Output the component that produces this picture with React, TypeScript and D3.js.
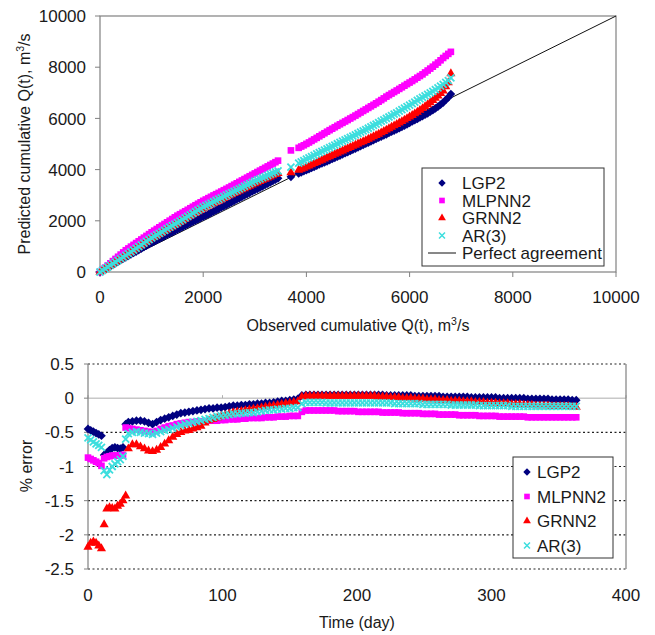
import React from "react";
import * as d3 from "d3";

// ---- series ----
const seriesNames = ["LGP2", "MLPNN2", "GRNN2", "AR(3)"];
const seriesColors = ["#000080", "#ff00ff", "#ff0000", "#3ddede"];

// ---- top chart: observed vs predicted cumulative Q(t) ----
const observed = [
  0, 50, 100, 150, 200, 250, 300, 350, 400, 450,
  500, 550, 600, 650, 700, 750, 800, 850, 900, 950,
  1000, 1050, 1100, 1150, 1200, 1250, 1300, 1350, 1400, 1450,
  1500, 1550, 1600, 1650, 1700, 1750, 1800, 1850, 1900, 1950,
  2000, 2050, 2100, 2150, 2200, 2250, 2300, 2350, 2400, 2450,
  2500, 2550, 2600, 2650, 2700, 2750, 2800, 2850, 2900, 2950,
  3000, 3050, 3100, 3150, 3200, 3250, 3300, 3350, 3400, 3450,
  3700, 3850, 3900, 3950, 4000, 4050, 4100, 4150, 4200, 4250,
  4300, 4350, 4400, 4450, 4500, 4550, 4600, 4650, 4700, 4750,
  4800, 4850, 4900, 4950, 5000, 5050, 5100, 5150, 5200, 5250,
  5300, 5350, 5400, 5450, 5500, 5550, 5600, 5650, 5700, 5750,
  5800, 5850, 5900, 5950, 6000, 6050, 6100, 6150, 6200, 6250,
  6300, 6350, 6400, 6450, 6500, 6550, 6600, 6650, 6700, 6750,
  6800,
];
const predLGP2 = [
  0, 57, 115, 172, 230, 287, 345, 402, 460, 517,
  575, 632, 690, 745, 800, 857, 915, 972, 1030, 1085,
  1140, 1192, 1245, 1297, 1350, 1402, 1455, 1507, 1560, 1610,
  1660, 1712, 1765, 1815, 1865, 1915, 1965, 2012, 2060, 2110,
  2160, 2210, 2260, 2312, 2365, 2417, 2470, 2520, 2570, 2622,
  2675, 2727, 2780, 2832, 2885, 2937, 2990, 3042, 3095, 3147,
  3200, 3247, 3295, 3347, 3400, 3450, 3500, 3555, 3610, 3660,
  3720, 3850, 3895, 3940, 3980, 4020, 4065, 4110, 4155, 4200,
  4240, 4280, 4325, 4370, 4415, 4460, 4505, 4550, 4595, 4640,
  4685, 4730, 4775, 4820, 4870, 4920, 4965, 5010, 5055, 5100,
  5150, 5200, 5245, 5290, 5335, 5380, 5430, 5480, 5525, 5570,
  5620, 5670, 5720, 5770, 5825, 5880, 5930, 5980, 6035, 6090,
  6145, 6200, 6260, 6320, 6390, 6460, 6540, 6620, 6720, 6820,
  6950,
];
const predMLPNN2 = [
  0, 85, 170, 255, 340, 425, 510, 595, 680, 765,
  850, 920, 990, 1060, 1130, 1200, 1270, 1340, 1410, 1480,
  1550, 1615, 1680, 1745, 1810, 1875, 1940, 2005, 2070, 2135,
  2200, 2257, 2315, 2372, 2430, 2490, 2550, 2607, 2665, 2722,
  2780, 2832, 2885, 2937, 2990, 3040, 3090, 3142, 3195, 3247,
  3300, 3355, 3410, 3465, 3520, 3575, 3630, 3685, 3740, 3795,
  3850, 3905, 3960, 4015, 4070, 4125, 4180, 4235, 4290, 4350,
  4750, 4850, 4900, 4950, 5005, 5060, 5120, 5180, 5240, 5300,
  5360, 5420, 5480, 5540, 5597, 5655, 5712, 5770, 5825, 5880,
  5937, 5995, 6052, 6110, 6170, 6230, 6290, 6350, 6410, 6470,
  6530, 6590, 6652, 6715, 6782, 6850, 6910, 6970, 7030, 7090,
  7152, 7215, 7277, 7340, 7400, 7460, 7525, 7590, 7655, 7720,
  7795, 7870, 7945, 8020, 8100, 8180, 8270, 8360, 8440, 8520,
  8600,
];
const predGRNN2 = [
  0, 65, 130, 192, 255, 320, 385, 447, 510, 575,
  640, 705, 770, 837, 905, 970, 1035, 1102, 1170, 1235,
  1300, 1357, 1415, 1472, 1530, 1590, 1650, 1707, 1765, 1822,
  1880, 1940, 2000, 2060, 2120, 2180, 2240, 2300, 2360, 2420,
  2480, 2530, 2580, 2630, 2680, 2730, 2780, 2830, 2880, 2930,
  2980, 3027, 3075, 3122, 3170, 3215, 3260, 3307, 3355, 3402,
  3450, 3495, 3540, 3585, 3630, 3675, 3720, 3765, 3810, 3850,
  3880, 3980, 4020, 4060, 4105, 4150, 4195, 4240, 4285, 4330,
  4375, 4420, 4465, 4510, 4555, 4600, 4645, 4690, 4735, 4780,
  4825, 4870, 4915, 4960, 5005, 5050, 5095, 5140, 5190, 5240,
  5290, 5340, 5390, 5440, 5495, 5550, 5605, 5660, 5715, 5770,
  5825, 5880, 5940, 6000, 6060, 6120, 6185, 6250, 6320, 6390,
  6465, 6540, 6620, 6700, 6790, 6880, 6980, 7080, 7240, 7400,
  7750,
];
const predAR3 = [
  0, 65, 130, 195, 260, 325, 390, 455, 520, 585,
  650, 717, 785, 852, 920, 990, 1060, 1127, 1195, 1262,
  1330, 1390, 1450, 1510, 1570, 1630, 1690, 1750, 1810, 1870,
  1930, 1990, 2050, 2110, 2170, 2232, 2295, 2357, 2420, 2480,
  2540, 2590, 2640, 2692, 2745, 2795, 2845, 2897, 2950, 3000,
  3050, 3100, 3150, 3200, 3250, 3300, 3350, 3400, 3450, 3500,
  3550, 3595, 3640, 3685, 3730, 3775, 3820, 3865, 3910, 3950,
  4100, 4250, 4300, 4350, 4405, 4460, 4510, 4560, 4610, 4660,
  4710, 4760, 4810, 4860, 4910, 4960, 5010, 5060, 5110, 5160,
  5210, 5260, 5310, 5360, 5410, 5460, 5510, 5560, 5615, 5670,
  5725, 5780, 5835, 5890, 5945, 6000, 6055, 6110, 6165, 6220,
  6280, 6340, 6400, 6460, 6520, 6580, 6640, 6700, 6760, 6820,
  6880, 6940, 7000, 7060, 7125, 7190, 7260, 7330, 7405, 7480,
  7580,
];
const topTicks = [0, 2000, 4000, 6000, 8000, 10000];

// ---- bottom chart: % error over time ----
const days = [
  0, 2, 4, 6, 8, 10, 12, 14, 16, 18, 20, 22, 24, 26, 28, 30,
  33, 36, 39, 42, 45, 48, 51, 54, 57, 60,
  63, 66, 69, 72, 75, 78, 81, 84, 87, 90,
  93, 96, 99, 102, 105, 108, 111, 114, 117, 120,
  123, 126, 129, 132, 135, 138, 141, 144, 147, 150,
  153, 156, 159,
  162, 165, 168, 171, 174, 177, 180, 183, 186, 189, 192, 195, 198, 201, 204, 207, 210,
  213, 216, 219, 222, 225, 228, 231, 234, 237, 240,
  243, 246, 249, 252, 255, 258, 261, 264, 267, 270,
  273, 276, 279, 282, 285, 288, 291, 294, 297, 300,
  303, 306, 309, 312, 315, 318, 321, 324, 327, 330,
  333, 336, 339, 342, 345, 348, 351, 354, 357, 360,
  363,
];
const errLGP2 = [
  -0.45, -0.47, -0.49, -0.51, -0.53, -0.55, -0.83, -0.8, -0.76, -0.73, -0.72, -0.73, -0.74, -0.72, -0.38, -0.35,
  -0.34, -0.33, -0.33, -0.34, -0.36, -0.38, -0.35, -0.32, -0.3, -0.28,
  -0.26, -0.24, -0.22, -0.21, -0.2, -0.19, -0.18, -0.17, -0.16, -0.15,
  -0.15, -0.14, -0.14, -0.13, -0.12, -0.11, -0.11, -0.1, -0.1, -0.09,
  -0.09, -0.08, -0.08, -0.07, -0.07, -0.06, -0.05, -0.04, -0.04, -0.03,
  -0.02, -0.01, 0.04,
  0.05, 0.05, 0.05, 0.05, 0.05, 0.05, 0.05, 0.05, 0.05, 0.05, 0.05, 0.05, 0.05, 0.05, 0.05, 0.05, 0.05,
  0.05, 0.05, 0.05, 0.04, 0.04, 0.04, 0.04, 0.04, 0.04, 0.04,
  0.03, 0.03, 0.03, 0.03, 0.03, 0.03, 0.03, 0.02, 0.02, 0.02,
  0.02, 0.02, 0.02, 0.02, 0.01, 0.01, 0.01, 0.01, 0.01, 0.01,
  0.01, 0, 0, 0, 0, 0, 0, 0, -0.01, -0.01,
  -0.01, -0.01, -0.01, -0.01, -0.02, -0.02, -0.02, -0.02, -0.02, -0.03,
  -0.03,
];
const errMLPNN2 = [
  -0.87, -0.89, -0.91, -0.93, -0.95, -0.99, -0.88, -0.86, -0.85, -0.84, -0.84, -0.84, -0.84, -0.83, -0.43, -0.44,
  -0.45, -0.46, -0.47, -0.48, -0.49, -0.5, -0.48, -0.45, -0.43, -0.41,
  -0.4, -0.38, -0.37, -0.36, -0.35, -0.35, -0.34, -0.34, -0.34, -0.33,
  -0.33, -0.33, -0.32, -0.32, -0.31, -0.31, -0.31, -0.3, -0.3, -0.29,
  -0.29, -0.29, -0.29, -0.28, -0.28, -0.28, -0.27, -0.27, -0.27, -0.26,
  -0.26, -0.26, -0.2,
  -0.18, -0.18, -0.18, -0.18, -0.18, -0.18, -0.18, -0.18, -0.19, -0.19, -0.19, -0.19, -0.19, -0.2, -0.2, -0.2, -0.2,
  -0.2, -0.2, -0.21, -0.21, -0.21, -0.21, -0.21, -0.22, -0.22, -0.22,
  -0.22, -0.22, -0.23, -0.23, -0.23, -0.23, -0.24, -0.24, -0.24, -0.24,
  -0.24, -0.25, -0.25, -0.25, -0.25, -0.25, -0.26, -0.26, -0.26, -0.26,
  -0.26, -0.27, -0.27, -0.27, -0.27, -0.27, -0.27, -0.27, -0.28, -0.28,
  -0.28, -0.28, -0.28, -0.28, -0.28, -0.28, -0.28, -0.28, -0.28, -0.28,
  -0.28,
];
const errGRNN2 = [
  -2.18, -2.12, -2.1, -2.12, -2.16, -2.2, -1.85, -1.62, -1.6, -1.61, -1.62, -1.58, -1.55, -1.5, -1.43, -0.74,
  -0.68, -0.68, -0.71, -0.74, -0.77, -0.78, -0.76, -0.72, -0.67, -0.62,
  -0.57, -0.53, -0.5, -0.48, -0.47, -0.45, -0.43, -0.41, -0.36, -0.33,
  -0.31, -0.29, -0.27, -0.25, -0.23, -0.21, -0.2, -0.19, -0.18, -0.17,
  -0.16, -0.15, -0.14, -0.13, -0.12, -0.11, -0.1, -0.09, -0.08, -0.07,
  -0.06, -0.05, 0.02,
  0.03, 0.03, 0.03, 0.03, 0.03, 0.03, 0.03, 0.03, 0.03, 0.03, 0.03, 0.03, 0.03, 0.03, 0.03, 0.03, 0.03,
  0.03, 0.02, 0.02, 0.02, 0.01, 0.01, 0.01, 0, 0, 0,
  -0.01, -0.01, -0.01, -0.02, -0.02, -0.02, -0.03, -0.03, -0.03, -0.04,
  -0.04, -0.04, -0.05, -0.05, -0.05, -0.06, -0.06, -0.06, -0.07, -0.07,
  -0.07, -0.08, -0.08, -0.08, -0.09, -0.09, -0.09, -0.1, -0.1, -0.1,
  -0.11, -0.11, -0.11, -0.11, -0.12, -0.12, -0.12, -0.12, -0.12, -0.13,
  -0.13,
];
const errAR3 = [
  -0.58, -0.61, -0.64, -0.67, -0.69, -0.72, -1.06, -1.12, -1.05, -1.0, -0.96, -0.93, -0.9, -0.85, -0.6, -0.52,
  -0.5, -0.49, -0.5, -0.51, -0.52, -0.53, -0.51, -0.49, -0.47, -0.46,
  -0.44, -0.42, -0.4, -0.38, -0.37, -0.35, -0.34, -0.33, -0.31, -0.3,
  -0.28, -0.27, -0.26, -0.25, -0.24, -0.23, -0.23, -0.22, -0.22, -0.21,
  -0.21, -0.2, -0.19, -0.18, -0.17, -0.17, -0.16, -0.16, -0.15, -0.15,
  -0.14, -0.14, -0.08,
  -0.06, -0.06, -0.06, -0.06, -0.06, -0.07, -0.07, -0.07, -0.07, -0.07, -0.07, -0.07, -0.07, -0.07, -0.07, -0.07, -0.07,
  -0.07, -0.07, -0.07, -0.07, -0.07, -0.08, -0.08, -0.08, -0.08, -0.08,
  -0.08, -0.08, -0.09, -0.09, -0.09, -0.09, -0.09, -0.09, -0.09, -0.1,
  -0.1, -0.1, -0.1, -0.1, -0.1, -0.1, -0.11, -0.11, -0.11, -0.11,
  -0.11, -0.11, -0.11, -0.11, -0.12, -0.12, -0.12, -0.12, -0.12, -0.12,
  -0.12, -0.12, -0.12, -0.12, -0.12, -0.12, -0.12, -0.12, -0.12, -0.12,
  -0.12,
];
const errTicks = [0.5, 0, -0.5, -1, -1.5, -2, -2.5];
const dayTicks = [0, 100, 200, 300, 400];

const FONT = "'Liberation Sans', Arial, sans-serif";
const TXT = "#1a1a1a";
const AXIS = "#808080";

// marker shapes (LGP2 diamond, MLPNN2 square, GRNN2 triangle, AR(3) x)
const diamondPath = d3.symbol(d3.symbolSquare, 38)() as string;
const squarePath = d3.symbol(d3.symbolSquare, 44)() as string;
const trianglePath = d3.symbol(d3.symbolTriangle, 36)() as string;
const xPath = "M-3.5,-3.5L3.5,3.5M-3.5,3.5L3.5,-3.5";

function Marker({ kind, x, y, scale = 1 }: { kind: number; x: number; y: number; scale?: number }) {
  const c = seriesColors[kind];
  const t = `translate(${x},${y}) scale(${scale})`;
  if (kind === 0) return <path d={diamondPath} transform={`${t} rotate(45)`} fill={c} />;
  if (kind === 1) return <path d={squarePath} transform={t} fill={c} />;
  if (kind === 2) return <path d={trianglePath} transform={t} fill={c} />;
  return <path d={xPath} transform={t} stroke={c} strokeWidth={1.8} fill="none" />;
}

function TopChart() {
  const x = d3.scaleLinear().domain([0, 10000]).range([100, 616]);
  const y = d3.scaleLinear().domain([0, 10000]).range([272, 16]);
  const preds = [predLGP2, predMLPNN2, predGRNN2, predAR3];
  const rows = [183, 200.5, 218, 235.5, 253];
  return (
    <g fontFamily={FONT} fill={TXT}>
      <rect x={100} y={16} width={516} height={256} fill="white" stroke={AXIS} strokeWidth={1.2} />
      {topTicks.map((t) => (
        <g key={"tx" + t}>
          <line x1={x(t)} x2={x(t)} y1={272} y2={277} stroke={AXIS} />
          <text x={x(t)} y={303} textAnchor="middle" fontSize={17}>{t}</text>
          <line x1={95} x2={100} y1={y(t)} y2={y(t)} stroke={AXIS} />
          <text x={86} y={y(t)} dy="0.36em" textAnchor="end" fontSize={17}>{t}</text>
        </g>
      ))}
      <line x1={x(0)} y1={y(0)} x2={x(10000)} y2={y(10000)} stroke="#111" strokeWidth={1} />
      {preds.map((p, k) => (
        <g key={"s" + k}>
          {observed.map((o, i) => (
            <Marker key={i} kind={k} x={x(o)} y={y(p[i])} />
          ))}
        </g>
      ))}
      <text x={358} y={331} textAnchor="middle" fontSize={16}>
        Observed cumulative Q(t), m<tspan dy={-6} fontSize={10.5}>3</tspan><tspan dy={6}>/s</tspan>
      </text>
      <text transform={`translate(30,144) rotate(-90)`} textAnchor="middle" fontSize={16}>
        Predicted cumulative Q(t), m<tspan dy={-6} fontSize={10.5}>3</tspan><tspan dy={6}>/s</tspan>
      </text>
      <rect x={422} y={168} width={182} height={98} fill="white" stroke="#333" strokeWidth={1} />
      {seriesNames.map((n, k) => (
        <g key={"l" + k}>
          <Marker kind={k} x={442} y={rows[k]} scale={0.85} />
          <text x={462} y={rows[k]} dy="0.36em" fontSize={17}>{n}</text>
        </g>
      ))}
      <line x1={428} x2={456} y1={rows[4]} y2={rows[4]} stroke="#111" />
      <text x={462} y={rows[4]} dy="0.36em" fontSize={17}>Perfect agreement</text>
    </g>
  );
}

function BottomChart() {
  const x = d3.scaleLinear().domain([0, 400]).range([88, 626]);
  const y = d3.scaleLinear().domain([-2.5, 0.5]).range([569, 364]);
  const errs = [errLGP2, errMLPNN2, errGRNN2, errAR3];
  const rows = [472, 496.5, 521, 545.5];
  return (
    <g fontFamily={FONT} fill={TXT}>
      {errTicks.filter((t) => t !== 0).map((t) => (
        <line key={"g" + t} x1={88} x2={626} y1={y(t)} y2={y(t)} stroke="#222" strokeDasharray="2,2.5" strokeWidth={1.2} />
      ))}
      <line x1={88} x2={626} y1={y(0)} y2={y(0)} stroke="#c8c8c8" strokeWidth={1.5} />
      {dayTicks.map((t) => (
        <g key={"dx" + t}>
          <line x1={x(t)} x2={x(t)} y1={y(0) - 3} y2={y(0)} stroke="#b0b0b0" />
          <text x={x(t)} y={601} textAnchor="middle" fontSize={17}>{t}</text>
        </g>
      ))}
      <line x1={88} x2={88} y1={364} y2={569} stroke={AXIS} strokeWidth={1.2} />
      <line x1={626} x2={626} y1={364} y2={569} stroke={AXIS} strokeWidth={1.2} />
      {errTicks.map((t) => (
        <g key={"ey" + t}>
          <line x1={84} x2={88} y1={y(t)} y2={y(t)} stroke={AXIS} />
          <text x={74} y={y(t)} dy="0.36em" textAnchor="end" fontSize={17}>{t}</text>
        </g>
      ))}
      {errs.map((e, k) => (
        <g key={"b" + k}>
          {days.map((d, i) => (
            <Marker key={i} kind={k} x={x(d)} y={y(e[i])} />
          ))}
        </g>
      ))}
      <text x={357} y={628} textAnchor="middle" fontSize={16}>Time (day)</text>
      <text transform={`translate(32,466) rotate(-90)`} textAnchor="middle" fontSize={16}>% error</text>
      <rect x={513} y={457} width={100} height={101} fill="white" stroke="#333" strokeWidth={1} />
      {seriesNames.map((n, k) => (
        <g key={"bl" + k}>
          <Marker kind={k} x={527} y={rows[k]} scale={0.85} />
          <text x={537} y={rows[k]} dy="0.36em" fontSize={17}>{n}</text>
        </g>
      ))}
    </g>
  );
}

export default function App() {
  return (
    <svg
      width={655}
      height={635}
      style={{ position: "absolute", left: 0, top: 0, background: "white" }}
    >
      <rect width={655} height={635} fill="white" />
      <TopChart />
      <BottomChart />
    </svg>
  );
}
